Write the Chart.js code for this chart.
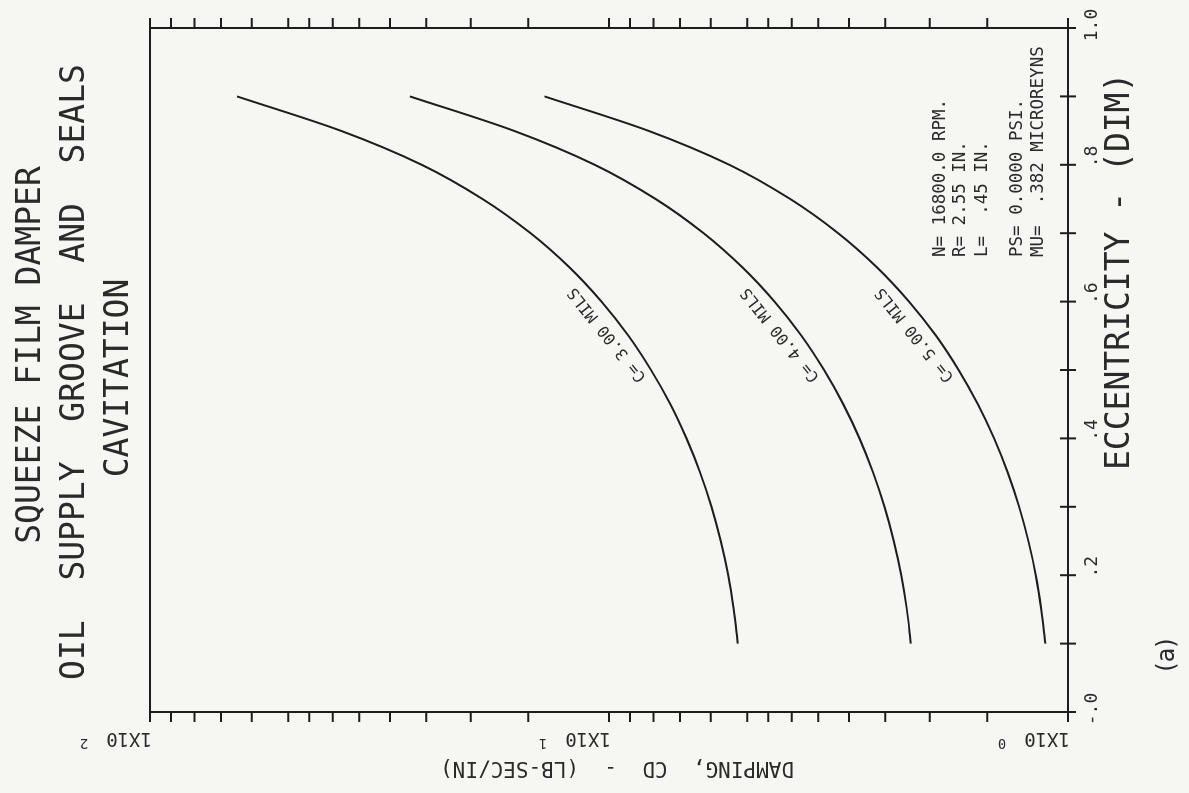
<!DOCTYPE html>
<html>
<head>
<meta charset="utf-8">
<title>Squeeze film damper - damping vs eccentricity</title>
<script src="https://cdn.jsdelivr.net/npm/chart.js@4.4.1/dist/chart.umd.min.js"></script>
<style>
  html, body { margin: 0; padding: 0; width: 1189px; height: 793px; overflow: hidden; background: #f6f6f3; }
  /* The plot is laid out upright (793 x 1189) and turned a quarter turn counter-clockwise onto the sheet. */
  #sheet { position: absolute; left: 0; top: 0; width: 793px; height: 1189px;
           transform-origin: 0 0; transform: translateY(793px) rotate(-90deg); }
  canvas { display: block; }
</style>
</head>
<body>
<div id="sheet"><canvas id="plot" width="793" height="1189"></canvas></div>
<script>
// Eccentricity ratio (dimensionless) at which damping was computed
const eccentricity = [0.10, 0.15, 0.20, 0.25, 0.30, 0.35, 0.40, 0.45, 0.50, 0.55, 0.60, 0.65, 0.70, 0.75, 0.80, 0.85, 0.90];

// Damping coefficient CD (lb-sec/in) for each radial clearance
const dampingC3 = [5.24, 5.35, 5.50, 5.71, 5.98, 6.33, 6.78, 7.35, 8.10, 9.07, 10.38, 12.19, 14.82, 18.86, 25.58, 38.49, 64.65];
const dampingC4 = [2.200, 2.244, 2.308, 2.396, 2.511, 2.658, 2.846, 3.088, 3.400, 3.807, 4.359, 5.120, 6.221, 7.915, 10.74, 16.16, 27.15];
const dampingC5 = [1.120, 1.143, 1.175, 1.220, 1.278, 1.353, 1.449, 1.572, 1.731, 1.938, 2.219, 2.606, 3.167, 4.030, 5.467, 8.228, 13.82];
const clearanceLabels = ['C= 3.00 MILS', 'C= 4.00 MILS', 'C= 5.00 MILS'];

// Axis ticks
const eccTicks = [0, 0.1, 0.2, 0.3, 0.4, 0.5, 0.6, 0.7, 0.8, 0.9, 1.0];
const eccLabelValues = [0, 0.2, 0.4, 0.6, 0.8, 1.0];
const eccLabels = ['-.0', '.2', '.4', '.6', '.8', '1.0'];
const dampingDecades = [1, 10, 100];
const decadeExponents = ['0', '1', '2'];
const minorSteps = [1.5, 2, 2.5, 3, 3.5, 4, 4.5, 5, 6, 7, 8, 9];

// Text blocks
const titleLines = ['SQUEEZE FILM DAMPER', 'OIL  SUPPLY  GROOVE  AND  SEALS', 'CAVITATION'];
const runInfo = ['N= 16800.0 RPM.', 'R= 2.55 IN.', 'L=  .45 IN.', 'PS= 0.0000 PSI.', 'MU=  .382 MICROREYNS'];
const xTitle = 'ECCENTRICITY - (DIM)';
const yTitle = 'DAMPING,  CD  -  (LB-SEC/IN)';
const panelTag = '(a)';

const INK = '#1d1d1d';
const TEXT_INK = '#2a2a2a';
const MONO = '"DejaVu Sans Mono", "Liberation Mono", monospace';

const seriesList = [dampingC3, dampingC4, dampingC5];

// every damping tick value: decade marks plus the intermediate marks inside each decade
const dampingTicks = [];
dampingDecades.forEach((d, i) => {
  dampingTicks.push(d);
  if (i < dampingDecades.length - 1) minorSteps.forEach(m => dampingTicks.push(d * m));
});

const plotter = {
  id: 'plotter',
  afterDraw(chart) {
    const { ctx, chartArea: a, scales: { x, y } } = chart;
    ctx.save();
    ctx.strokeStyle = INK;
    ctx.lineWidth = 2;
    ctx.lineCap = 'butt';

    // frame
    ctx.strokeRect(a.left, a.top, a.right - a.left, a.bottom - a.top);

    // eccentricity ticks straddling the lower border
    ctx.beginPath();
    eccTicks.forEach(e => {
      const px = x.getPixelForValue(e);
      ctx.moveTo(px, a.bottom - 8);
      ctx.lineTo(px, a.bottom + 8);
    });
    // damping ticks pointing outward from both side borders
    dampingTicks.forEach(d => {
      const py = y.getPixelForValue(d);
      ctx.moveTo(a.left - 10, py); ctx.lineTo(a.left, py);
      ctx.moveTo(a.right, py); ctx.lineTo(a.right + 10, py);
    });
    ctx.stroke();

    ctx.fillStyle = TEXT_INK;

    // eccentricity labels, decimal point set on the tick
    ctx.font = '18px ' + MONO;
    ctx.textBaseline = 'middle';
    ctx.textAlign = 'left';
    eccLabelValues.forEach((e, i) => {
      const txt = eccLabels[i];
      const dot = txt.indexOf('.');
      const pre = ctx.measureText(txt.slice(0, dot)).width;
      const dw = ctx.measureText('.').width;
      const px = x.getPixelForValue(e) + 3 - pre - dw / 2;
      ctx.fillText(txt, px, a.bottom + 24);
    });

    // damping decade labels, written along the axis
    dampingDecades.forEach((d, i) => {
      const py = y.getPixelForValue(d);
      ctx.save();
      ctx.translate(a.left - 26, py + 2);
      ctx.rotate(-Math.PI / 2);
      ctx.font = '19px ' + MONO;
      ctx.textBaseline = 'middle';
      ctx.textAlign = 'left';
      ctx.fillText('1X10', 0, 0);
      const w = ctx.measureText('1X10').width;
      ctx.font = '14px ' + MONO;
      ctx.fillText(decadeExponents[i], w + 18, -5);
      ctx.restore();
    });

    // damping axis title
    ctx.save();
    ctx.translate(26, 617);
    ctx.rotate(-Math.PI / 2);
    ctx.font = '21px ' + MONO;
    ctx.textAlign = 'center';
    ctx.textBaseline = 'middle';
    ctx.fillText(yTitle, 0, 0);
    ctx.restore();

    // eccentricity axis title and panel tag
    ctx.font = '33px ' + MONO;
    ctx.textAlign = 'left';
    ctx.textBaseline = 'middle';
    ctx.fillText(xTitle, 323, 1120);
    ctx.font = '24px "DejaVu Sans", sans-serif';
    ctx.textAlign = 'center';
    ctx.fillText(panelTag, 138, 1168);

    // title block
    ctx.font = '33px ' + MONO;
    ctx.textAlign = 'center';
    const titleCentres = [438, 421, 415];
    titleLines.forEach((line, i) => ctx.fillText(line, titleCentres[i], 31 + i * 44));

    // run parameters
    ctx.font = '17.5px ' + MONO;
    ctx.textAlign = 'left';
    const infoRows = [940, 960, 982, 1017, 1038];
    runInfo.forEach((line, i) => ctx.fillText(line, 536, infoRows[i]));

    // clearance labels laid along each curve
    const i0 = eccentricity.indexOf(0.5);
    const i1 = eccentricity.indexOf(0.65);
    ctx.font = '16px ' + MONO;
    ctx.textAlign = 'left';
    ctx.textBaseline = 'alphabetic';
    seriesList.forEach((s, k) => {
      const x0 = x.getPixelForValue(eccentricity[i0]), y0 = y.getPixelForValue(s[i0]);
      const x1 = x.getPixelForValue(eccentricity[i1]), y1 = y.getPixelForValue(s[i1]);
      ctx.save();
      ctx.translate(x0, y0);
      ctx.rotate(Math.atan2(y1 - y0, x1 - x0));
      ctx.fillText(clearanceLabels[k], -3, -8);
      ctx.restore();
    });

    ctx.restore();
  }
};

new Chart(document.getElementById('plot'), {
  type: 'line',
  data: {
    datasets: seriesList.map((s, k) => ({
      label: clearanceLabels[k],
      data: eccentricity.map((e, i) => ({ x: e, y: s[i] })),
      borderColor: INK,
      borderWidth: 2,
      pointRadius: 0,
      fill: false,
      cubicInterpolationMode: 'monotone'
    }))
  },
  options: {
    responsive: false,
    animation: false,
    devicePixelRatio: 1,
    layout: { padding: { top: 150, right: 28, left: 0, bottom: 0 } },
    plugins: { legend: { display: false }, tooltip: { enabled: false }, title: { display: false } },
    scales: {
      x: {
        type: 'linear', min: 0, max: 1,
        grid: { display: false }, border: { display: false }, ticks: { display: false },
        afterFit(s) { s.height = 121; }
      },
      y: {
        type: 'logarithmic', min: 1, max: 100,
        grid: { display: false }, border: { display: false }, ticks: { display: false },
        afterFit(s) { s.width = 81; }
      }
    }
  },
  plugins: [plotter]
});
</script>
</body>
</html>
